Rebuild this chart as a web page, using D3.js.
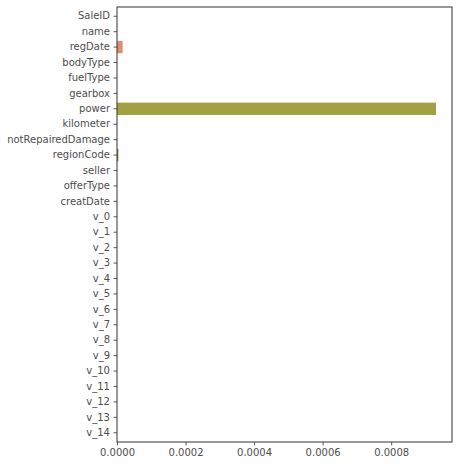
<!DOCTYPE html>
<html lang="en">
<head>
    <meta charset="UTF-8">
    <title>Feature values</title>
    <script src="https://d3js.org/d3.v7.min.js"></script>
    <style>
        html, body { margin: 0; padding: 0; background: #fff; overflow: hidden; }
        svg { display: block; }
        text { font-family: "DejaVu Sans", sans-serif; }
    </style>
</head>
<body>
    <svg class="chart" width="459" height="466"></svg>
    <script>
        const features = ['SaleID', 'name', 'regDate', 'bodyType', 'fuelType', 'gearbox', 'power',
            'kilometer', 'notRepairedDamage', 'regionCode', 'seller', 'offerType', 'creatDate',
            'v_0', 'v_1', 'v_2', 'v_3', 'v_4', 'v_5', 'v_6', 'v_7', 'v_8', 'v_9', 'v_10',
            'v_11', 'v_12', 'v_13', 'v_14']
        const values = [0, 0, 0.0000165, 0, 0, 0, 0.000931,
            0, 0, 0.000004, 0, 0, 0,
            0, 0, 0, 0, 0, 0, 0, 0, 0, 0, 0,
            0, 0, 0, 0]
        const xTicks = [0, 0.0002, 0.0004, 0.0006, 0.0008]

        const svg = d3.select('.chart')
        const margin = { top: 7, right: 7, bottom: 24, left: 117 }
        const innerWidth = 459 - margin.left - margin.right
        const innerHeight = 466 - margin.top - margin.bottom
        const ink = '#333333'
        const labelInk = '#4d4d4d'

        const data = features.map((name, i) => ({ name, value: values[i], i }))

        // husl-like palette, desaturated as seaborn does for bars
        const color = i => {
            const c = d3.hcl(12 + i * 360 / features.length, 48, 64)
            return c.formatHex()
        }
        const fixed = { 2: '#de8f70', 6: '#a39f43', 9: '#5c9a44' }

        const xScale = d3.scaleLinear()
            .domain([0, d3.max(values) * 1.05])
            .range([0, innerWidth])
        const yScale = d3.scaleBand()
            .domain(features)
            .range([0, innerHeight])
            .padding(0.2)

        const g = svg.append('g')
            .attr('transform', `translate(${margin.left},${margin.top})`)

        g.selectAll('rect')
            .data(data)
            .enter()
            .append('rect')
            .attr('x', 0)
            .attr('y', d => yScale(d.name))
            .attr('width', d => xScale(d.value))
            .attr('height', yScale.bandwidth())
            .attr('fill', d => fixed[d.i] || color(d.i))

        const yAxis = g.append('g')
            .call(d3.axisLeft(yScale).tickSize(3.5).tickPadding(3.5))
        const xAxis = g.append('g')
            .attr('transform', `translate(0,${innerHeight})`)
            .call(d3.axisBottom(xScale).tickValues(xTicks).tickFormat(d3.format('.4f')).tickSize(3.5).tickPadding(3.5))

        ;[yAxis, xAxis].forEach(ax => {
            ax.select('.domain').remove()
            ax.selectAll('line').attr('stroke', ink).attr('stroke-width', 0.8)
            ax.selectAll('text').attr('fill', labelInk).attr('font-size', '10px')
                .attr('font-family', '"DejaVu Sans", sans-serif')
        })

        // spines
        g.append('rect')
            .attr('width', innerWidth)
            .attr('height', innerHeight)
            .attr('fill', 'none')
            .attr('stroke', ink)
            .attr('stroke-width', 1)
    </script>
</body>
</html>
